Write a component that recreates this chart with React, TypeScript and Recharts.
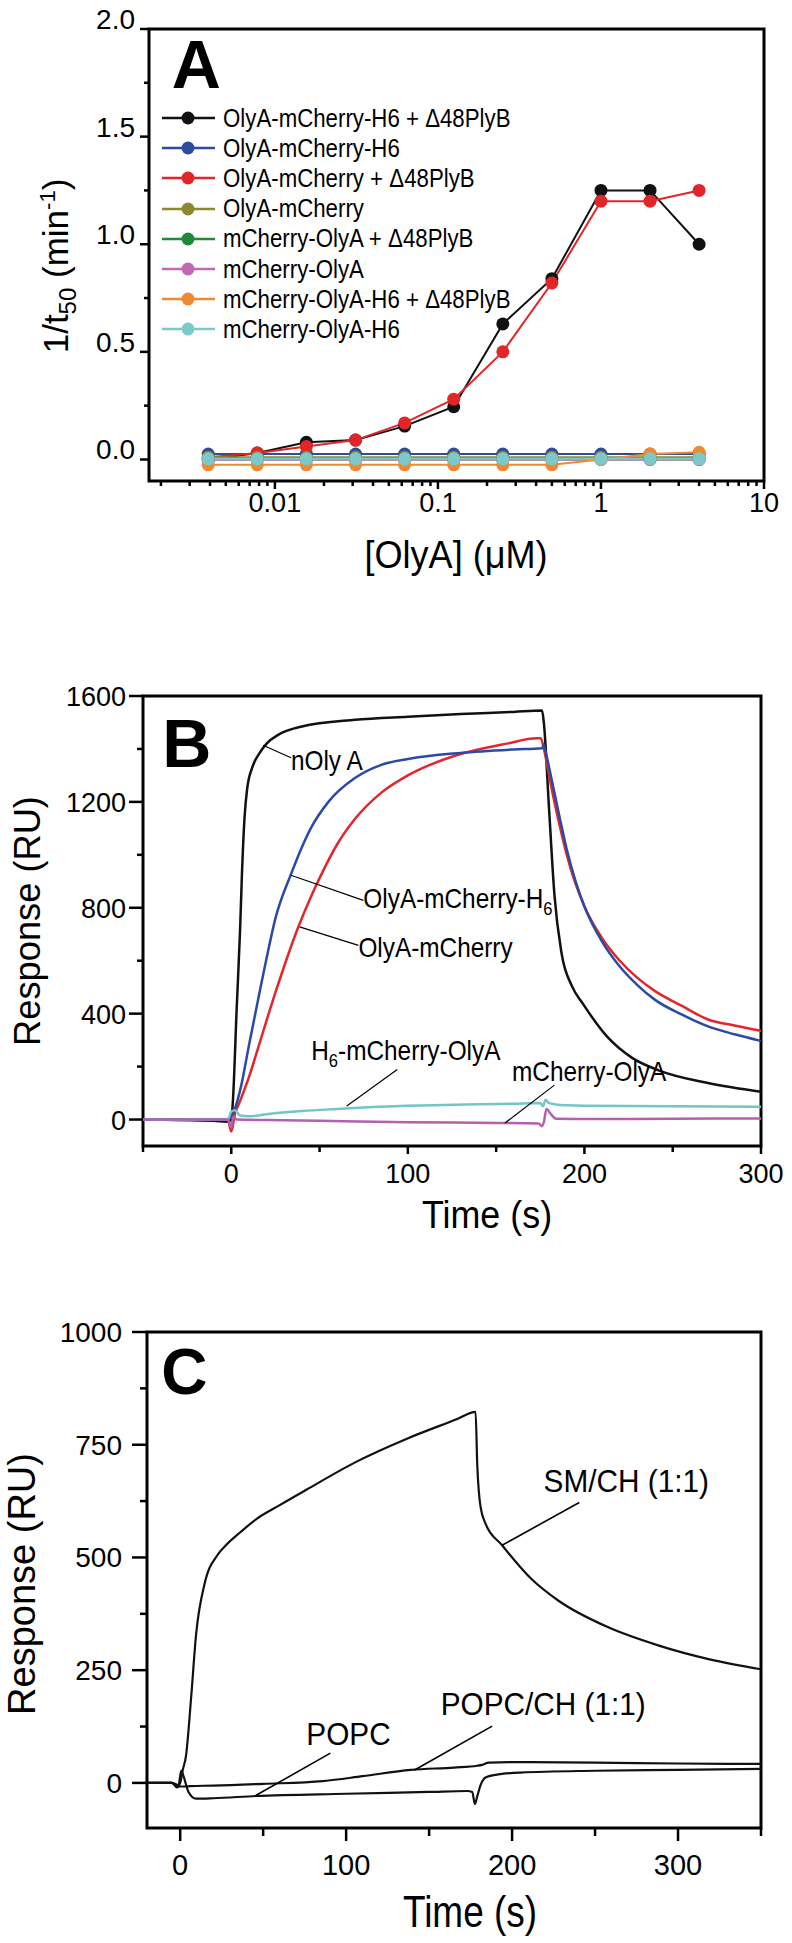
import React from 'react'
import { LineChart, Line, XAxis, YAxis, ReferenceArea, ReferenceLine, ReferenceDot, Legend } from 'recharts'

const FONT = '"Liberation Sans", Arial, Helvetica, sans-serif'

// ---------- Panel A: 1/t50 vs [OlyA] ----------
const concentrations = [0.0039, 0.0078, 0.0156, 0.03125, 0.0625, 0.125, 0.25, 0.5, 1, 2, 4]
const olyaMchH6Plyb = [0.0, 0.03, 0.08, 0.09, 0.155, 0.245, 0.63, 0.84, 1.25, 1.25, 1.0]
const olyaMchH6 = [0.025, 0.025, 0.025, 0.025, 0.025, 0.025, 0.025, 0.025, 0.025, 0.025, 0.025]
const olyaMchPlyb = [0.01, 0.03, 0.06, 0.09, 0.17, 0.28, 0.5, 0.82, 1.2, 1.2, 1.25]
const olyaMch = [0.01, 0.01, 0.01, 0.01, 0.01, 0.01, 0.01, 0.01, 0.01, 0.01, 0.01]
const mchOlyaPlyb = [0.0, 0.0, 0.0, 0.0, 0.0, 0.0, 0.0, 0.0, 0.0, 0.0, 0.0]
const mchOlya = [0.0, 0.0, 0.0, 0.0, 0.0, 0.0, 0.0, 0.0, 0.0, 0.0, 0.0]
const mchOlyaH6Plyb = [-0.025, -0.025, -0.025, -0.025, -0.025, -0.025, -0.025, -0.025, 0.0, 0.025, 0.033]
const mchOlyaH6 = [0.003, 0.003, 0.003, 0.003, 0.003, 0.003, 0.003, 0.003, 0.003, 0.003, 0.003]

const namesA = [
  'OlyA-mCherry-H6 + \u039448PlyB',
  'OlyA-mCherry-H6',
  'OlyA-mCherry + \u039448PlyB',
  'OlyA-mCherry',
  'mCherry-OlyA + \u039448PlyB',
  'mCherry-OlyA',
  'mCherry-OlyA-H6 + \u039448PlyB',
  'mCherry-OlyA-H6',
]
const colorsA = ['#111111', '#2f4b9c', '#e1262a', '#8a8a2c', '#22883a', '#c06ab6', '#ef8a32', '#7bc9c9']
const valuesA = [olyaMchH6Plyb, olyaMchH6, olyaMchPlyb, olyaMch, mchOlyaPlyb, mchOlya, mchOlyaH6Plyb, mchOlyaH6]

const xMajorA = [0.01, 0.1, 1, 10]
const xTicksA = [
  0.002, 0.003, 0.004, 0.005, 0.006, 0.007, 0.008, 0.009, 0.01,
  0.02, 0.03, 0.04, 0.05, 0.06, 0.07, 0.08, 0.09, 0.1,
  0.2, 0.3, 0.4, 0.5, 0.6, 0.7, 0.8, 0.9, 1,
  2, 3, 4, 5, 6, 7, 8, 9, 10,
]
const yMajorA = [0, 0.5, 1, 1.5, 2]
const yTicksA = [0, 0.25, 0.5, 0.75, 1, 1.25, 1.5, 1.75, 2]

// ---------- Panel B: SPR sensorgrams ----------
const nOlyATime = [-50, -10, -2, 0, 1, 3, 5, 6, 7.5, 9, 12, 16, 20, 27, 40, 70, 100, 130, 160, 176, 177, 180, 183, 187, 193, 199, 213, 227, 242, 270, 300]
const nOlyAResp = [0, -5, -8, 0, 80, 410, 720, 920, 1140, 1250, 1332, 1384, 1420, 1455, 1485, 1510, 1522, 1532, 1540, 1545, 1500, 1170, 850, 630, 503, 439, 312, 233, 186, 138, 105]

const olyaMchH6Time = [-50, -2, 0, 2, 5, 10, 16, 20, 25, 34, 45, 55, 70, 85, 100, 130, 160, 176, 177, 178, 180, 183, 186, 190, 195, 200, 210, 220, 230, 240, 255, 270, 285, 300]
const olyaMchH6Resp = [0, 0, 10, 40, 110, 280, 480, 610, 760, 930, 1100, 1200, 1290, 1340, 1362, 1385, 1398, 1403, 1415, 1390, 1330, 1235, 1140, 1020, 900, 805, 672, 578, 508, 452, 397, 352, 322, 297]

const olyaMchTime = [-50, -2, 0, 2, 5, 10, 16, 20, 25, 30, 38, 45, 50, 60, 70, 85, 100, 127, 156, 173, 175, 178, 180, 183, 186, 190, 195, 200, 210, 220, 230, 240, 255, 270, 285, 300]
const olyaMchResp = [0, 0, -45, 20, 70, 160, 288, 375, 480, 580, 728, 840, 912, 1040, 1135, 1235, 1300, 1375, 1420, 1440, 1440, 1370, 1300, 1200, 1110, 1000, 890, 805, 685, 600, 535, 485, 430, 378, 355, 335]

const h6MchOlyaTime = [-50, -2, 0, 2, 5, 10, 20, 40, 60, 80, 100, 120, 140, 160, 175, 176.5, 178, 180, 185, 190, 200, 250, 300]
const h6MchOlyaResp = [0, 0, 30, 35, 15, 12, 20, 32, 40, 47, 52, 55, 58, 60, 62, 50, 75, 62, 56, 54, 52, 50, 48]

const mchOlyaTime = [-50, -2, 0, 1, 3, 20, 50, 100, 150, 174, 176, 177, 178.5, 181, 184, 200, 250, 300]
const mchOlyaResp = [0, 0, -30, 10, 0, -2, -5, -10, -13, -15, -25, -10, 40, 20, 3, 2, 3, 4]

const xMajorB = [0, 100, 200, 300]
const xTicksB = [-50, 0, 50, 100, 150, 200, 250, 300]
const yMajorB = [0, 400, 800, 1200, 1600]
const yTicksB = [0, 200, 400, 600, 800, 1000, 1200, 1400, 1600]

// ---------- Panel C: liposome binding ----------
const smChTime = [-20, -5, -2, 0, 1.5, 3.5, 6.5, 9.6, 14.6, 22.6, 27, 36.6, 45.5, 60, 76, 106, 137, 167, 178, 179, 181, 184, 194, 212, 228, 258, 288, 319, 350]
const smChResp = [0, 0, -10, 0, 28, 60, 185, 330, 440, 506, 525, 557, 584, 616, 650, 712, 764, 807, 823, 707, 612, 575, 527, 451, 404, 345, 305, 274, 252]

const popcChTime = [-20, -5, -1, 2, 6, 20, 50, 86, 110, 139, 165, 179, 182, 186, 200, 250, 300, 350]
const popcChResp = [0, 0, -8, -8, -7, -6, -2, 4, 15, 29, 34, 38, 40, 45, 46, 45, 43, 42]

const popcTime = [-20, -5, -1, 0.6, 2, 5, 9.6, 20, 45.8, 100, 150, 173, 176, 177.6, 179, 181, 184, 190, 205, 250, 300, 350]
const popcResp = [0, 0, -5, 27, 15, -20, -35, -34, -29, -24, -20, -18, -20, -47, -30, -5, 12, 18, 23, 27, 29, 31]

const xMajorC = [0, 100, 200, 300]
const xTicksC = [0, 50, 100, 150, 200, 250, 300, 350]
const yMajorC = [0, 250, 500, 750, 1000]
const yTicksC = [0, 125, 250, 375, 500, 625, 750, 875, 1000]

const tableA = concentrations.map((x, i) => {
  const row: Record<string, number> = { x }
  valuesA.forEach((s, k) => { row['s' + k] = s[i] })
  return row
})
const zip = (t: number[], v: number[]) => t.map((x, i) => ({ t: x, v: v[i] }))

// ---------- small drawing helpers ----------
function Txt({ px, py, fs, sx = 1, rot = 0, anchor = 'start', weight = 'normal', txt }: any) {
  return (
    <text
      transform={`translate(${px},${py}) rotate(${rot}) scale(${sx},1)`}
      fontSize={fs}
      fontFamily={FONT}
      fontWeight={weight}
      textAnchor={anchor}
      fill="#000"
    >
      {txt}
    </text>
  )
}

// label placed at a data point (ReferenceDot), text starts there
function Note(props: any) {
  const vb = props.viewBox || {}
  const x = (vb.x ?? 0) + (vb.width ?? 0) / 2
  const y = (vb.y ?? 0) + (vb.height ?? 0) / 2
  return <Txt px={x} py={y + (props.dyc || 0)} fs={props.fs} sx={props.sx} weight={props.weight} txt={props.txt} />
}

function AxisTitle(props: any) {
  return <Txt px={props.px} py={props.py} fs={props.fs} sx={props.sx} rot={props.rot} anchor="middle" txt={props.txt} />
}

function makeXTick(majors: number[], majLen: number, minLen: number, off: number, fs: number) {
  return (p: any) => {
    const v = p.payload.value
    const major = majors.some((m) => Math.abs(m - v) < 1e-9)
    return (
      <g>
        <line x1={p.x} x2={p.x} y1={p.y} y2={p.y + (major ? majLen : minLen)} stroke="#000" strokeWidth={2.5} />
        {major && (
          <text x={p.x} y={p.y + off} textAnchor="middle" fontSize={fs} fontFamily={FONT} fill="#000">
            {String(v)}
          </text>
        )}
      </g>
    )
  }
}

function makeYTick(majors: number[], majLen: number, minLen: number, gap: number, fs: number, dy: number, fmt: (v: number) => string) {
  return (p: any) => {
    const v = p.payload.value
    const major = majors.some((m) => Math.abs(m - v) < 1e-9)
    return (
      <g>
        <line x1={p.x} x2={p.x - (major ? majLen : minLen)} y1={p.y} y2={p.y} stroke="#000" strokeWidth={2.5} />
        {major && (
          <text x={p.x - gap} y={p.y + dy} textAnchor="end" fontSize={fs} fontFamily={FONT} fill="#000">
            {fmt(v)}
          </text>
        )}
      </g>
    )
  }
}

function LegendA() {
  return (
    <div style={{ fontFamily: FONT }}>
      {namesA.map((n, i) => (
        <div key={n} style={{ height: 30.2, display: 'flex', alignItems: 'center' }}>
          <svg width={62} height={20} style={{ flex: 'none' }}>
            <line x1={4} x2={57} y1={10} y2={10} stroke={colorsA[i]} strokeWidth={2.5} />
            <circle cx={30} cy={10} r={6.5} fill={colorsA[i]} />
          </svg>
          <span
            style={{
              fontSize: 25,
              marginLeft: 3,
              display: 'inline-block',
              whiteSpace: 'nowrap',
              transform: 'scaleX(0.89)',
              transformOrigin: 'left center',
              color: '#000',
            }}
          >
            {n}
          </span>
        </div>
      ))}
    </div>
  )
}

const seg = (x1: number, y1: number, x2: number, y2: number) => [{ x: x1, y: y1 }, { x: x2, y: y2 }]

function PanelA() {
  return (
    <LineChart width={792} height={600} data={tableA} margin={{ top: 29, right: 28, bottom: 19, left: 0 }}>
      <XAxis
        dataKey="x" type="number" scale="log" domain={[0.00169, 10]} allowDataOverflow
        ticks={xTicksA} interval={0} tickSize={0} tickMargin={0} axisLine={false} tickLine={false}
        tick={makeXTick(xMajorA, 8, 5, 31, 27)} height={100}
        label={<AxisTitle px={456} py={568} fs={38} sx={0.95} txt={'[OlyA] (\u03bcM)'} />}
      />
      <YAxis
        type="number" domain={[-0.1, 2]} allowDataOverflow ticks={yTicksA} interval={0} width={149}
        tickSize={0} tickMargin={0} axisLine={false} tickLine={false}
        tick={makeYTick(yMajorA, 9, 5, 14, 28, 0, (v) => v.toFixed(1))}
        label={
          <AxisTitle px={68} py={266} fs={35} rot={-90} txt={
            <>
              <tspan>1/t</tspan>
              <tspan dy={8} fontSize={24}>50</tspan>
              <tspan dy={-8}> (min</tspan>
              <tspan dy={-13} fontSize={22}>-1</tspan>
              <tspan dy={13}>)</tspan>
            </>
          } />
        }
      />
      <ReferenceArea x1={0.00169} x2={10} y1={-0.1} y2={2} fill="none" stroke="#000" strokeWidth={3} ifOverflow="visible" />
      {valuesA.map((_, k) => (
        <Line
          key={k} dataKey={'s' + k} name={namesA[k]} type="linear" stroke={colorsA[k]} strokeWidth={2}
          dot={{ r: 6.5, fill: colorsA[k], stroke: colorsA[k], strokeWidth: 0 }} isAnimationActive={false}
        />
      ))}
      <ReferenceDot x={0.00233} y={1.726} r={0} fill="none" stroke="none" ifOverflow="visible"
        label={<Note fs={68} weight="bold" txt="A" />} />
      <Legend
        layout="vertical" align="center" verticalAlign="middle"
        wrapperStyle={{ left: 158, top: 103, width: 360, height: 245 }}
        content={() => <LegendA />}
      />
    </LineChart>
  )
}

function PanelB() {
  const dn = 10
  return (
    <LineChart width={792} height={660} margin={{ top: 76, right: 31, bottom: 34, left: 0 }}>
      <XAxis
        dataKey="t" type="number" domain={[-50, 300]} allowDataOverflow ticks={xTicksB} interval={0}
        tickSize={0} tickMargin={0} axisLine={false} tickLine={false}
        tick={makeXTick(xMajorB, 8, 6, 37, 27)} height={100}
        label={<AxisTitle px={487} py={608} fs={39} sx={0.92} txt="Time (s)" />}
      />
      <YAxis
        type="number" domain={[-100, 1600]} allowDataOverflow ticks={yTicksB} interval={0} width={143}
        tickSize={0} tickMargin={0} axisLine={false} tickLine={false}
        tick={makeYTick(yMajorB, 14, 6, 17, 27, 10, (v) => String(v))}
        label={<AxisTitle px={40} py={301} fs={37} sx={0.98} rot={-90} txt="Response (RU)" />}
      />
      <ReferenceArea x1={-50} x2={300} y1={-100} y2={1600} fill="none" stroke="#000" strokeWidth={3} ifOverflow="visible" />
      <Line data={zip(nOlyATime, nOlyAResp)} dataKey="v" type="monotone" stroke="#111111" strokeWidth={2.5} dot={false} isAnimationActive={false} />
      <Line data={zip(olyaMchTime, olyaMchResp)} dataKey="v" type="monotone" stroke="#e3262b" strokeWidth={2.5} dot={false} isAnimationActive={false} />
      <Line data={zip(olyaMchH6Time, olyaMchH6Resp)} dataKey="v" type="monotone" stroke="#2b4aa6" strokeWidth={2.5} dot={false} isAnimationActive={false} />
      <Line data={zip(h6MchOlyaTime, h6MchOlyaResp)} dataKey="v" type="monotone" stroke="#72c6c6" strokeWidth={2.5} dot={false} isAnimationActive={false} />
      <Line data={zip(mchOlyaTime, mchOlyaResp)} dataKey="v" type="monotone" stroke="#b45fb0" strokeWidth={2.5} dot={false} isAnimationActive={false} />

      <ReferenceLine segment={seg(18, 1414, 33.8, 1367)} stroke="#000" strokeWidth={1.2} ifOverflow="visible" />
      <ReferenceLine segment={seg(33.8, 923, 74.8, 828)} stroke="#000" strokeWidth={1.2} ifOverflow="visible" />
      <ReferenceLine segment={seg(38.7, 728, 72, 658)} stroke="#000" strokeWidth={1.2} ifOverflow="visible" />
      <ReferenceLine segment={seg(65.4, 51, 94, 189)} stroke="#000" strokeWidth={1.2} ifOverflow="visible" />
      <ReferenceLine segment={seg(155, -13, 183, 130)} stroke="#000" strokeWidth={1.2} ifOverflow="visible" />

      <ReferenceDot x={-39.1} y={1332} r={0} fill="none" stroke="none" ifOverflow="visible" label={<Note fs={68} weight="bold" txt="B" />} />
      <ReferenceDot x={33.8} y={1359} r={0} fill="none" stroke="none" ifOverflow="visible" label={<Note fs={28} sx={0.87} dyc={dn} txt="nOly A" />} />
      <ReferenceDot x={74.8} y={836} r={0} fill="none" stroke="none" ifOverflow="visible"
        label={<Note fs={28} sx={0.87} dyc={dn} txt={<><tspan>OlyA-mCherry-H</tspan><tspan dy={7} fontSize={19}>6</tspan></>} />} />
      <ReferenceDot x={72} y={653} r={0} fill="none" stroke="none" ifOverflow="visible" label={<Note fs={28} sx={0.87} dyc={dn} txt="OlyA-mCherry" />} />
      <ReferenceDot x={45.3} y={262} r={0} fill="none" stroke="none" ifOverflow="visible"
        label={<Note fs={28} sx={0.87} dyc={dn} txt={<><tspan>H</tspan><tspan dy={7} fontSize={19}>6</tspan><tspan dy={-7}>-mCherry-OlyA</tspan></>} />} />
      <ReferenceDot x={159} y={182} r={0} fill="none" stroke="none" ifOverflow="visible" label={<Note fs={28} sx={0.87} dyc={dn} txt="mCherry-OlyA" />} />
    </LineChart>
  )
}

function PanelC() {
  const dn = 11
  return (
    <LineChart width={792} height={663} margin={{ top: 52, right: 31, bottom: 15, left: 0 }}>
      <XAxis
        dataKey="t" type="number" domain={[-20, 350]} allowDataOverflow ticks={xTicksC} interval={0}
        tickSize={0} tickMargin={0} axisLine={false} tickLine={false}
        tick={makeXTick(xMajorC, 13, 8, 47, 29)} height={100}
        label={<AxisTitle px={470} py={647} fs={44} sx={0.84} txt="Time (s)" />}
      />
      <YAxis
        type="number" domain={[-100, 1000]} allowDataOverflow ticks={yTicksC} interval={0} width={147}
        tickSize={0} tickMargin={0} axisLine={false} tickLine={false}
        tick={makeYTick(yMajorC, 15, 7, 25, 28, 10, (v) => String(v))}
        label={<AxisTitle px={35} py={304} fs={38} rot={-90} txt="Response (RU)" />}
      />
      <ReferenceArea x1={-20} x2={350} y1={-100} y2={1000} fill="none" stroke="#000" strokeWidth={3} ifOverflow="visible" />
      <Line data={zip(smChTime, smChResp)} dataKey="v" type="monotone" stroke="#111111" strokeWidth={2.2} dot={false} isAnimationActive={false} />
      <Line data={zip(popcChTime, popcChResp)} dataKey="v" type="monotone" stroke="#111111" strokeWidth={2.2} dot={false} isAnimationActive={false} />
      <Line data={zip(popcTime, popcResp)} dataKey="v" type="monotone" stroke="#111111" strokeWidth={2.2} dot={false} isAnimationActive={false} />

      <ReferenceLine segment={seg(194, 527, 240.5, 622)} stroke="#000" strokeWidth={1.6} ifOverflow="visible" />
      <ReferenceLine segment={seg(141, 28, 188, 126)} stroke="#000" strokeWidth={1.6} ifOverflow="visible" />
      <ReferenceLine segment={seg(45.5, -28, 90.5, 66)} stroke="#000" strokeWidth={1.6} ifOverflow="visible" />

      <ReferenceDot x={-11.4} y={863} r={0} fill="none" stroke="none" ifOverflow="visible" label={<Note fs={64} weight="bold" txt="C" />} />
      <ReferenceDot x={219} y={670} r={0} fill="none" stroke="none" ifOverflow="visible" label={<Note fs={32} sx={0.93} dyc={dn} txt="SM/CH (1:1)" />} />
      <ReferenceDot x={157} y={176} r={0} fill="none" stroke="none" ifOverflow="visible" label={<Note fs={32} sx={0.93} dyc={dn} txt="POPC/CH (1:1)" />} />
      <ReferenceDot x={76} y={109} r={0} fill="none" stroke="none" ifOverflow="visible" label={<Note fs={32} sx={0.93} dyc={dn} txt="POPC" />} />
    </LineChart>
  )
}

export default function App() {
  return (
    <div style={{ position: 'absolute', left: 0, top: 0, width: 792, height: 1943, background: '#fff', fontFamily: FONT }}>
      <div style={{ position: 'absolute', left: 0, top: 0 }}>
        <PanelA />
      </div>
      <div style={{ position: 'absolute', left: 0, top: 620 }}>
        <PanelB />
      </div>
      <div style={{ position: 'absolute', left: 0, top: 1280 }}>
        <PanelC />
      </div>
    </div>
  )
}
